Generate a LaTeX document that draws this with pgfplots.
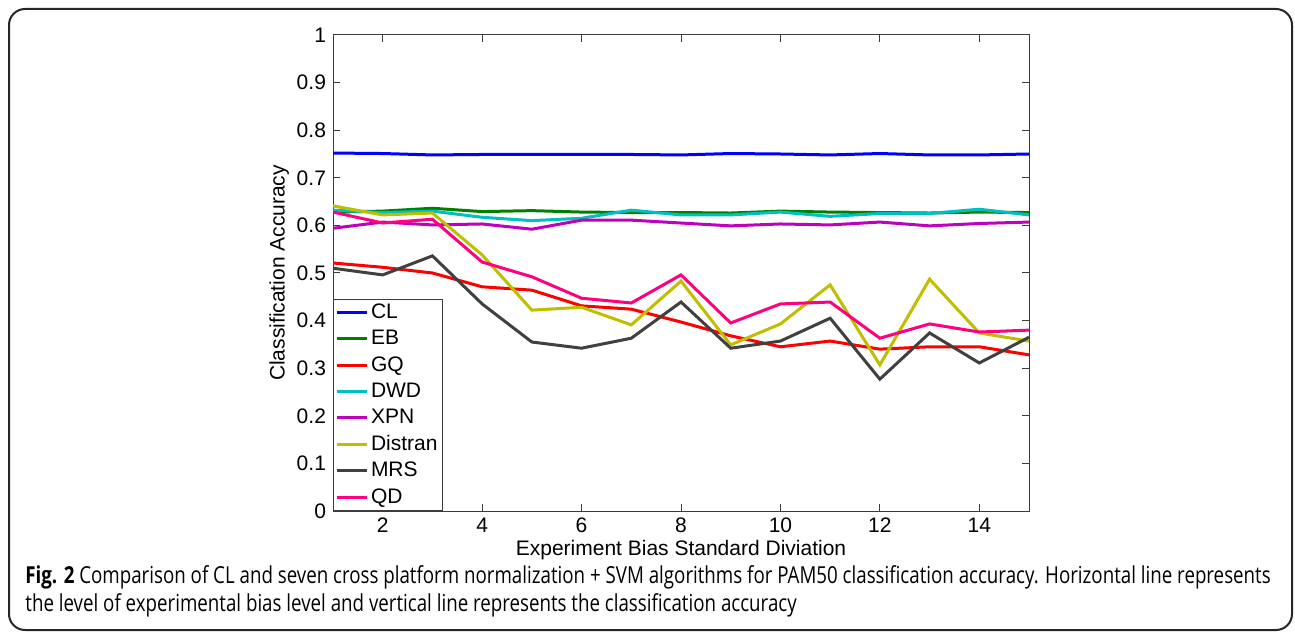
\documentclass[border=0pt]{standalone}
\usepackage{pgfplots}
\pgfplotsset{compat=1.18}
\usepackage{fontspec}
\setmainfont{Liberation Sans}
\newfontfamily\capfont[FakeStretch=0.8]{Open Sans}

\definecolor{cCL}{RGB}{0,0,255}
\definecolor{cEB}{RGB}{0,128,0}
\definecolor{cGQ}{RGB}{255,0,0}
\definecolor{cDWD}{RGB}{0,191,191}
\definecolor{cXPN}{RGB}{191,0,191}
\definecolor{cDIS}{RGB}{191,191,0}
\definecolor{cMRS}{RGB}{64,64,64}
\definecolor{cQD}{RGB}{255,0,128}
\definecolor{axgray}{RGB}{60,60,60}

\begin{document}
\begin{tikzpicture}[x=0.5pt,y=0.5pt]
\useasboundingbox (0,0) rectangle (1295,632);
\draw[line width=1pt, black!85, rounded corners=8pt] (9,2) rectangle (1292,623);

\begin{axis}[
  at={(166.5pt,60.5pt)}, anchor=south west,
  scale only axis, width=348pt, height=238pt,
  xmin=1, xmax=15, ymin=0, ymax=1,
  xtick={2,4,...,14}, ytick={0,0.1,...,1},
  tick align=inside, major tick length=3.5pt,
  axis line style={axgray, line width=0.5pt},
  tick style={axgray, line width=0.5pt},
  every tick label/.style={font=\fontsize{10.5}{12}\selectfont},
  /pgf/number format/assume math mode=true,
  yticklabel style={/pgf/number format/fixed, /pgf/number format/precision=1},
  xlabel={Experiment Bias Standard Diviation},
  ylabel={Classification Accuracy},
  label style={font=\fontsize{10.5}{12}\selectfont},
  xlabel style={yshift=3pt},
  ylabel style={yshift=-3pt},
  legend cell align=left,
  legend style={at={(0,0)}, anchor=south west, draw=axgray, fill=white,
    font=\fontsize{10.5}{12}\selectfont, inner sep=0.8pt, row sep=1.35pt,
    /tikz/every even column/.append style={column sep=0pt},
    nodes={inner sep=1.5pt}},
  legend image code/.code={\draw[#1, line width=1.5pt] (0pt,0pt) -- (15pt,0pt);},
  every axis plot/.append style={line width=1.5pt},
]
\addplot[cCL] coordinates {(1,0.752) (2,0.751) (3,0.748) (4,0.749) (5,0.749) (6,0.749) (7,0.749) (8,0.748) (9,0.751) (10,0.750) (11,0.748) (12,0.751) (13,0.748) (14,0.748) (15,0.750)};
\addplot[cEB] coordinates {(1,0.628) (2,0.630) (3,0.636) (4,0.629) (5,0.631) (6,0.628) (7,0.627) (8,0.627) (9,0.626) (10,0.630) (11,0.628) (12,0.627) (13,0.626) (14,0.628) (15,0.627)};
\addplot[cGQ] coordinates {(1,0.521) (2,0.512) (3,0.500) (4,0.471) (5,0.464) (6,0.431) (7,0.424) (8,0.397) (9,0.368) (10,0.345) (11,0.357) (12,0.340) (13,0.345) (14,0.345) (15,0.328)};
\addplot[cDWD] coordinates {(1,0.632) (2,0.627) (3,0.630) (4,0.617) (5,0.610) (6,0.615) (7,0.632) (8,0.622) (9,0.622) (10,0.628) (11,0.619) (12,0.625) (13,0.625) (14,0.634) (15,0.622)};
\addplot[cXPN] coordinates {(1,0.594) (2,0.607) (3,0.601) (4,0.603) (5,0.592) (6,0.611) (7,0.611) (8,0.605) (9,0.599) (10,0.603) (11,0.601) (12,0.607) (13,0.599) (14,0.604) (15,0.607)};
\addplot[cDIS] coordinates {(1,0.641) (2,0.622) (3,0.626) (4,0.538) (5,0.422) (6,0.428) (7,0.391) (8,0.483) (9,0.349) (10,0.393) (11,0.475) (12,0.307) (13,0.487) (14,0.374) (15,0.357)};
\addplot[cMRS] coordinates {(1,0.510) (2,0.496) (3,0.536) (4,0.435) (5,0.355) (6,0.342) (7,0.363) (8,0.439) (9,0.342) (10,0.357) (11,0.405) (12,0.277) (13,0.374) (14,0.311) (15,0.365)};
\addplot[cQD] coordinates {(1,0.628) (2,0.605) (3,0.613) (4,0.523) (5,0.492) (6,0.447) (7,0.437) (8,0.496) (9,0.395) (10,0.435) (11,0.439) (12,0.363) (13,0.393) (14,0.376) (15,0.380)};
\legend{CL,EB,GQ,DWD,XPN,Distran,MRS,QD}
\end{axis}

\node[anchor=base west, inner sep=0pt, font=\capfont\fontsize{11.7}{13}\selectfont] at (25,49)
  {\textbf{Fig. 2} Comparison of CL and seven cross platform normalization + SVM algorithms for PAM50 classification accuracy. Horizontal line represents};
\node[anchor=base west, inner sep=0pt, font=\capfont\fontsize{11.7}{13}\selectfont] at (25,21)
  {the level of experimental bias level and vertical line represents the classification accuracy};
\end{tikzpicture}
\end{document}
